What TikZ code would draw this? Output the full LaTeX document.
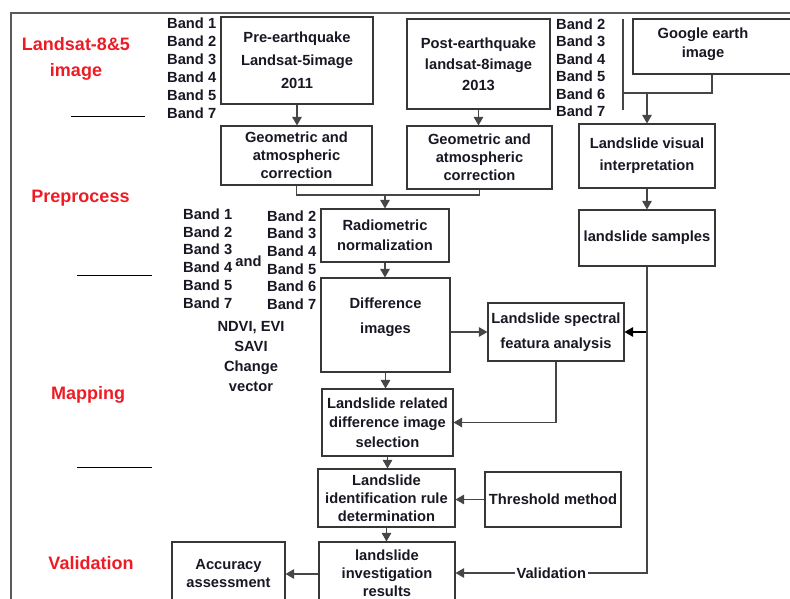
\documentclass[tikz,border=0pt]{standalone}
\usepackage{fontspec}
\setmainfont{Liberation Sans}
\usetikzlibrary{arrows.meta}
\definecolor{txt}{RGB}{24,24,36}
\definecolor{edge}{RGB}{55,55,55}
\definecolor{arrc}{RGB}{70,70,70}
\definecolor{framec}{RGB}{90,90,90}
\definecolor{redlab}{RGB}{237,28,36}
\begin{document}
\begin{tikzpicture}[x=1pt,y=-1pt,
  box/.style={draw=edge, line width=1.1pt, inner sep=0pt, align=center, text=txt,
    font=\fontsize{14.7}{18}\selectfont\bfseries},
  txtlab/.style={inner sep=0pt, align=center, text=txt,
    font=\fontsize{14.7}{18}\selectfont\bfseries},
  bands/.style={inner sep=0pt, align=left, text=txt,
    font=\fontsize{14.7}{18}\selectfont\bfseries},
  redl/.style={inner sep=0pt, align=center, text=redlab,
    font=\fontsize{18}{22}\selectfont\bfseries},
  arr/.style={draw=arrc, line width=1.2pt, -{Triangle[length=8.5pt,width=9.5pt]}},
  ln/.style={draw=arrc, line width=1.2pt},
  sepl/.style={draw=black, line width=1pt},
  framel/.style={draw=framec, line width=1.4pt}]
\useasboundingbox (0,0) rectangle (790,599);
% frame
\coordinate (f1) at (11,599);
\coordinate (f2) at (11,13);
\coordinate (f3) at (790,13);
\draw[framel] (f1) -- (f2) -- (f3);
% left stage labels
\node[redl] (l1) at (76,59) {Landsat-8\&5\\[4pt]image};
\node[redl] (l2) at (80.5,198) {Preprocess};
\node[redl] (l3) at (88,395) {Mapping};
\node[redl] (l4) at (91,563) {Validation};
% separators
\coordinate (s1a) at (71,117); \coordinate (s1b) at (145,117);
\coordinate (s2a) at (77,275); \coordinate (s2b) at (152,275);
\coordinate (s3a) at (77,467); \coordinate (s3b) at (152,467);
\draw[sepl] (s1a) -- (s1b);
\draw[sepl] (s2a) -- (s2b);
\draw[sepl] (s3a) -- (s3b);
% band lists
\node[bands, anchor=west] (bA) at (167,68.5) {Band 1\\Band 2\\Band 3\\Band 4\\Band 5\\Band 7};
\node[bands, anchor=west, font=\fontsize{14.7}{17.5}\selectfont\bfseries] (bB) at (556,67.5) {Band 2\\Band 3\\Band 4\\Band 5\\Band 6\\Band 7};
\node[bands, anchor=west, font=\fontsize{14.7}{17.8}\selectfont\bfseries] (bC) at (183,258.5) {Band 1\\Band 2\\Band 3\\Band 4\\Band 5\\Band 7};
\node[bands, anchor=west, font=\fontsize{14.7}{17.6}\selectfont\bfseries] (bD) at (267,260) {Band 2\\Band 3\\Band 4\\Band 5\\Band 6\\Band 7};
\node[txtlab] (andw) at (248.5,261) {and};
\node[txtlab] (idx) at (251,356.5) {NDVI, EVI\\[1.7pt]SAVI\\[1.7pt]Change\\[1.7pt]vector};
% boxes
\node[box, minimum width=152, minimum height=87] (pre) at (297,60.5) {Pre-earthquake\\[5pt]Landsat-5image\\[5pt]2011};
\node[box, minimum width=151, minimum height=59] (geo1) at (296.5,155.5) {Geometric and\\atmospheric\\correction};
\node[box, minimum width=143, minimum height=90] (post) at (478.5,64) {Post-earthquake\\[3pt]landsat-8image\\[3pt]2013};
\node[box, minimum width=145, minimum height=63] (geo2) at (479.5,157.5) {Geometric and\\atmospheric\\correction};
\node[box, minimum width=158, minimum height=55] (google) at (712,46.5) {};
\node[txtlab] (googleT) at (703,44.5) {Google earth\\[1pt]image};
\node[box, minimum width=136, minimum height=64] (vis) at (647,156) {Landslide visual\\[4pt]interpretation};
\node[box, minimum width=136, minimum height=56] (samp) at (647,238) {landslide samples};
\node[box, minimum width=128, minimum height=53] (radio) at (385,235.5) {Radiometric\\[2pt]normalization};
\node[box, minimum width=129, minimum height=94] (diff) at (385.5,325) {};
\node[txtlab] (diffT) at (385.5,317.5) {Difference\\[7pt]images};
\node[box, minimum width=136, minimum height=58] (spec) at (556,332) {Landslide spectral\\[7pt]featura analysis};
\node[box, minimum width=131, minimum height=67] (rel) at (387.5,422.5) {Landslide related\\[1.5pt]difference image\\[1.5pt]selection};
\node[box, minimum width=137, minimum height=58] (ident) at (386.5,498) {Landslide\\identification rule\\determination};
\node[box, minimum width=136, minimum height=55] (thr) at (553,499.5) {Threshold method};
\node[box, minimum width=136, minimum height=62] (inv) at (387,573) {landslide\\investigation\\results};
\node[box, minimum width=113, minimum height=64] (acc) at (228.5,574) {Accuracy\\assessment};
% connectors
\draw[arr] (pre.south) -- (pre.south |- geo1.north);
\draw[arr] (post.south) -- (post.south |- geo2.north);
\coordinate (j1) at (385,195);
\draw[ln] (geo1.south) |- (j1) -| (geo2.south);
\draw[arr] (j1) -- (radio.north);
\draw[arr] (radio.south) -- (radio.south |- diff.north);
\draw[arr] (diff.east |- spec.west) -- (spec.west);
\draw[arr] (diff.south) -- (diff.south |- rel.north);
\draw[arr] (spec.south) |- (rel.east);
\draw[arr] (rel.south) -- (rel.south |- ident.north);
\draw[arr] (thr.west) -- (thr.west -| ident.east);
\draw[arr] (ident.south) -- (ident.south |- inv.north);
\draw[arr] (inv.west |- acc.east) -- (acc.east);
% google branch
\coordinate (g1) at (623,19);
\coordinate (g2) at (623,110);
\coordinate (gj) at (623,93);
\draw[ln] (g1) -- (g2);
\draw[ln] (google.south) |- (gj);
\draw[arr] (vis.north |- gj) -- (vis.north);
\draw[arr] (vis.south) -- (samp.north);
\coordinate (vj) at (samp.south |- spec.east);
\draw[arr, draw=black] (vj) -- (spec.east);
\draw[arr] (samp.south) |- node[pos=0.75, fill=white, inner sep=2pt, text=txt, font=\fontsize{14.7}{18}\selectfont\bfseries] {Validation} (inv.east);
\end{tikzpicture}
\end{document}
